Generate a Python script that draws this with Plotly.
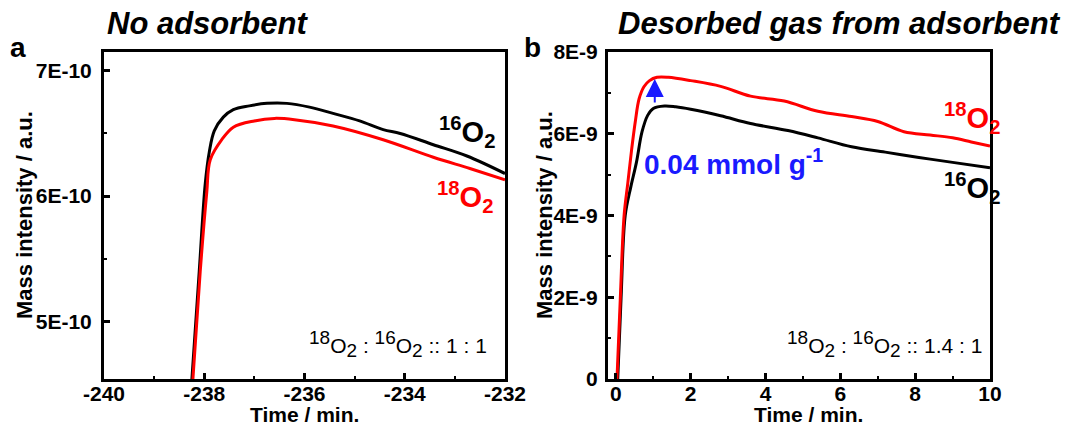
import plotly.graph_objects as go

# ---------------- data ----------------
# Panel a: no adsorbent
t_a_16 = [-238.27, -238.10, -237.98, -237.90, -237.80, -237.62, -237.42, -237.10, -236.75, -236.35,
          -235.90, -235.43, -234.90, -234.43, -234.09, -233.43, -232.76, -232.00]
v_a_16 = [4.40e-10, 5.40e-10, 6.10e-10, 6.35e-10, 6.52e-10, 6.63e-10, 6.69e-10, 6.72e-10, 6.74e-10, 6.74e-10,
          6.71e-10, 6.66e-10, 6.60e-10, 6.53e-10, 6.50e-10, 6.41e-10, 6.32e-10, 6.18e-10]
t_a_18 = [-238.25, -238.08, -237.95, -237.88, -237.65, -237.42, -237.00, -236.60, -236.20, -235.43,
          -234.43, -233.43, -232.70, -232.00]
v_a_18 = [4.40e-10, 5.40e-10, 6.03e-10, 6.29e-10, 6.45e-10, 6.55e-10, 6.60e-10, 6.62e-10, 6.61e-10, 6.56e-10,
          6.45e-10, 6.31e-10, 6.22e-10, 6.13e-10]

# Panel b: desorbed gas from adsorbent
t_b_18 = [0.03, 0.12, 0.22, 0.32, 0.42, 0.52, 0.62, 0.75, 0.90, 1.10, 1.40, 2.00, 2.80, 3.60, 4.50,
          5.40, 6.30, 7.00, 7.70, 8.40, 9.00, 9.50, 10.00]
v_b_18 = [0.0, 2.0e-9, 4.0e-9, 4.8e-9, 5.6e-9, 6.3e-9, 6.85e-9, 7.15e-9, 7.30e-9, 7.38e-9, 7.38e-9, 7.30e-9,
          7.16e-9, 6.92e-9, 6.80e-9, 6.55e-9, 6.42e-9, 6.30e-9, 6.05e-9, 5.97e-9, 5.90e-9, 5.80e-9, 5.70e-9]
t_b_16 = [0.05, 0.14, 0.25, 0.40, 0.55, 0.70, 0.85, 1.00, 1.30, 1.60, 2.00, 2.80, 3.60, 4.60, 5.40,
          6.30, 7.20, 8.10, 9.00, 10.00]
v_b_16 = [0.0, 2.0e-9, 4.0e-9, 4.7e-9, 5.3e-9, 6.05e-9, 6.45e-9, 6.62e-9, 6.68e-9, 6.66e-9, 6.60e-9,
          6.44e-9, 6.25e-9, 6.08e-9, 5.90e-9, 5.68e-9, 5.55e-9, 5.42e-9, 5.30e-9, 5.17e-9]

# ticks
xa_ticks = [-240, -238, -236, -234, -232]
xa_minor = [-239, -237, -235, -233]
ya_ticks = [5e-10, 6e-10, 7e-10]
ya_text = ["5E-10", "6E-10", "7E-10"]
ya_minor = [5.5e-10, 6.5e-10]
xb_ticks = [0, 2, 4, 6, 8, 10]
xb_minor = [1, 3, 5, 7, 9]
yb_ticks = [0, 2e-9, 4e-9, 6e-9, 8e-9]
yb_text = ["0", "2E-9", "4E-9", "6E-9", "8E-9"]
yb_minor = [1e-9, 3e-9, 5e-9, 7e-9]

# arrow (difference between peaks)
arrow_t = 1.04
arrow_from = 6.73e-9
arrow_to = 7.34e-9

W, H = 1069, 427
ML, MR, MT, MB = 0, 0, 52, 48
PH = H - MT - MB

RED = "#ff0000"
BLUE = "#1a1aff"
FONT = "Arial, Liberation Sans, sans-serif"


def px(x):
    return x / W


def py(y):
    return (H - MB - y) / PH


fig = go.Figure()
fig.add_trace(go.Scatter(x=t_a_16, y=v_a_16, mode="lines", line=dict(color="black", width=3, shape="spline"),
                         xaxis="x", yaxis="y", showlegend=False))
fig.add_trace(go.Scatter(x=t_a_18, y=v_a_18, mode="lines", line=dict(color=RED, width=3, shape="spline"),
                         xaxis="x", yaxis="y", showlegend=False))
fig.add_trace(go.Scatter(x=t_b_16, y=v_b_16, mode="lines", line=dict(color="black", width=3, shape="spline"),
                         xaxis="x2", yaxis="y2", showlegend=False))
fig.add_trace(go.Scatter(x=t_b_18, y=v_b_18, mode="lines", line=dict(color=RED, width=3, shape="spline"),
                         xaxis="x2", yaxis="y2", showlegend=False))

axis_common = dict(showline=True, linecolor="black", linewidth=3, mirror=True, showgrid=False,
                   zeroline=False, ticks="inside", ticklen=6, tickwidth=2.5, tickcolor="black",
                   automargin=False,
                   tickfont=dict(family=FONT, size=21, color="black", weight="bold"))


def minor(vals):
    return dict(tickmode="array", tickvals=vals, ticks="inside", ticklen=3, tickwidth=2,
                tickcolor="black", showgrid=False)


fig.update_layout(
    template="none",
    width=W, height=H, margin=dict(l=ML, r=MR, t=MT, b=MB, pad=0),
    paper_bgcolor="white", plot_bgcolor="white",
    font=dict(family=FONT, color="black"),
    xaxis=dict(domain=[px(104), px(505)], range=[-240, -232], anchor="y",
               tickmode="array", tickvals=xa_ticks, ticktext=[str(v) for v in xa_ticks],
               minor=minor(xa_minor), ticklabelstandoff=-6, **axis_common),
    yaxis=dict(domain=[0, 1], range=[4.54e-10, 7.15e-10], anchor="x",
               tickmode="array", tickvals=ya_ticks, ticktext=ya_text,
               minor=minor(ya_minor), ticklabelstandoff=5, **axis_common),
    xaxis2=dict(domain=[px(608), px(990)], range=[-0.21, 10], anchor="y2",
                tickmode="array", tickvals=xb_ticks, ticktext=[str(v) for v in xb_ticks],
                minor=minor(xb_minor), ticklabelstandoff=-6, **axis_common),
    yaxis2=dict(domain=[0, 1], range=[0, 8e-9], anchor="x2",
                tickmode="array", tickvals=yb_ticks, ticktext=yb_text,
                minor=minor(yb_minor), ticklabelstandoff=3, **axis_common),
)

ann = []


def text(x, y, s, size, color="black", bold=True, italic=False, angle=0, xanchor="center"):
    ann.append(dict(x=px(x), y=py(y), xref="paper", yref="paper", text=s, showarrow=False,
                    xanchor=xanchor, yanchor="middle", textangle=angle,
                    font=dict(family=FONT, size=size, color=color,
                              weight="bold" if bold else "normal",
                              style="italic" if italic else "normal")))


# panel letters and titles
text(18, 47, "a", 28)
text(532, 47, "b", 28)
text(207, 24, "No adsorbent", 31, italic=True)
text(839, 24, "Desorbed gas from adsorbent", 31, italic=True)

# axis titles
text(24, 215, "Mass intensity / a.u.", 22, angle=-90)
text(544, 215, "Mass intensity / a.u.", 22, angle=-90)
text(304, 414, "Time / min.", 21)
text(808, 414, "Time / min.", 21)

# isotope labels
text(467, 132, "<sup>16</sup>O<sub>2</sub>", 29)
text(465, 197, "<sup>18</sup>O<sub>2</sub>", 29, color=RED)
text(972, 118, "<sup>18</sup>O<sub>2</sub>", 29, color=RED)
text(972, 188, "<sup>16</sup>O<sub>2</sub>", 29)


def iso(n):
    return ("<sup><span style='font-size:19px'>%s</span></sup>O"
            "<sub><span style='font-size:19px'>2</span></sub>" % n)


# ratios
text(398, 344, iso(18) + " : " + iso(16) + " :: 1 : 1", 21, bold=False)
text(884, 344, iso(18) + " : " + iso(16) + " :: 1.4 : 1", 21, bold=False)

# amount label
text(733, 162, "0.04 mmol g<sup>-1</sup>", 28, color=BLUE)

# arrow
ann.append(dict(x=arrow_t, y=arrow_to, ax=arrow_t, ay=arrow_from, xref="x2", yref="y2",
                axref="x2", ayref="y2", showarrow=True, arrowhead=2, arrowsize=1.8, arrowwidth=2,
                arrowcolor=BLUE, text=""))

fig.update_layout(annotations=ann)
fig.write_html("out.html")
